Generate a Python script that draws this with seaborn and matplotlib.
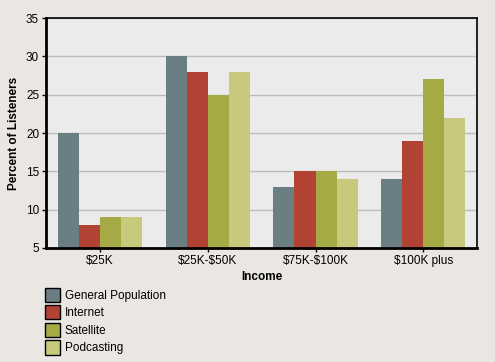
import pandas as pd
import seaborn as sns
import matplotlib.pyplot as plt
from matplotlib.patches import Patch

# Datos
categorias = ['$25K', '$25K-$50K', '$75K-$100K', '$100K plus']
series = ['General Population', 'Internet', 'Satellite', 'Podcasting']
general = [20, 30, 13, 14]
internet = [8, 28, 15, 19]
satelite = [9, 25, 15, 27]
podcasting = [9, 28, 14, 22]
colores = ['#6B7E84', '#B24334', '#A5AA45', '#C8C97C']

valores = [general, internet, satelite, podcasting]
filas = []
for s, vals in zip(series, valores):
    for c, v in zip(categorias, vals):
        filas.append({'Income': c, 'Serie': s, 'Valor': v})
df = pd.DataFrame(filas)

sns.set_theme(style="white")
plt.rcParams['font.family'] = ['Liberation Sans', 'DejaVu Sans']
plt.rcParams['text.color'] = 'black'
plt.rcParams['axes.labelcolor'] = 'black'
plt.rcParams['xtick.color'] = 'black'
plt.rcParams['ytick.color'] = 'black'

fig = plt.figure(figsize=(4.95, 3.62), dpi=100, facecolor='#EAE7E3')
ax = fig.add_axes([0.093, 0.315, 0.871, 0.635])
ax.set_facecolor('#EBEBEB')

sns.barplot(data=df, x='Income', y='Valor', hue='Serie', palette=colores,
            width=0.78, ax=ax, legend=False, saturation=1, linewidth=0)

# barras desde 5
for p in ax.patches:
    h = p.get_height()
    p.set_y(5)
    p.set_height(h - 5)

ax.set_ylim(5, 35)
ax.set_yticks(range(5, 36, 5))
# escapar el $ para que no se interprete como mathtext
ax.set_xticks(range(len(categorias)))
ax.set_xticklabels([c.replace('$', r'\$') for c in categorias])
ax.yaxis.grid(True, color='#BDBDBD', linewidth=1)
ax.set_axisbelow(True)
for sp in ax.spines.values():
    sp.set_color('black')
    sp.set_linewidth(1.2)
ax.spines['left'].set_linewidth(2)
ax.spines['bottom'].set_linewidth(2)
ax.tick_params(axis='both', labelsize=8.5, length=3, width=1, color='black',
               bottom=True, left=True, pad=2)
ax.set_xlabel('Income', fontsize=8.5, fontweight='bold', labelpad=3)
ax.set_ylabel('Percent of Listeners', fontsize=8.5, fontweight='bold', labelpad=4)

handles = [Patch(facecolor=c, edgecolor='black', linewidth=1) for c in colores]
fig.legend(handles, series, loc='upper left', bbox_to_anchor=(0.082, 0.218),
           frameon=False, fontsize=8.5, handlelength=1.25, handleheight=1.45,
           handletextpad=0.4, labelspacing=0.3, borderaxespad=0)

fig.savefig('out.png', dpi=100, facecolor=fig.get_facecolor())
